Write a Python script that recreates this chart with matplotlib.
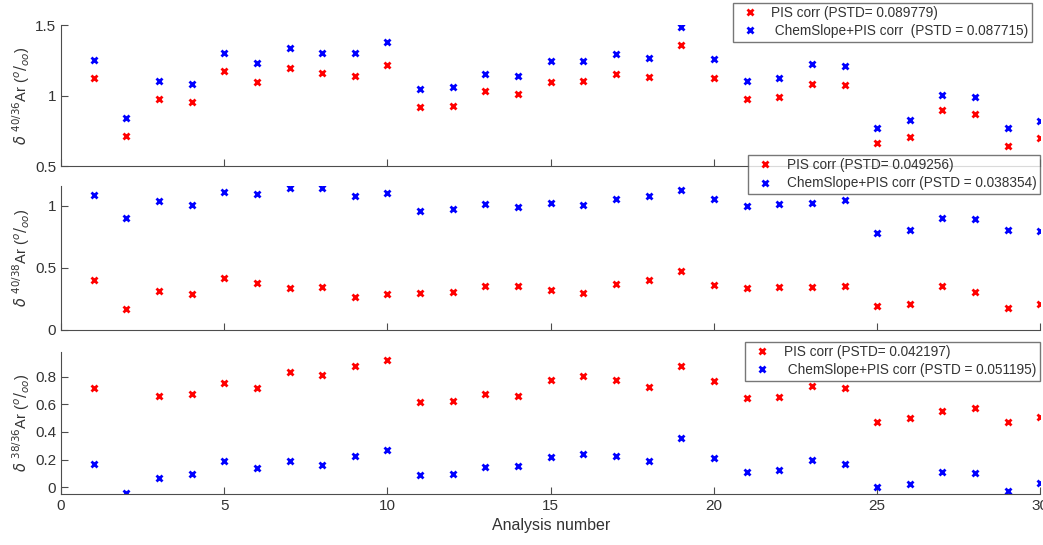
import numpy as np
import matplotlib
matplotlib.use('Agg')
import matplotlib.pyplot as plt

plt.rcParams['font.family'] = ['Liberation Sans', 'DejaVu Sans']

analysis = np.arange(1, 31)

# delta 40/36 Ar
r4036_pis = [1.122, 0.716, 0.977, 0.955, 1.171, 1.099, 1.192, 1.162, 1.141, 1.216,
             0.915, 0.927, 1.030, 1.009, 1.099, 1.106, 1.155, 1.129, 1.361, 1.122,
             0.972, 0.991, 1.085, 1.073, 0.660, 0.704, 0.897, 0.871, 0.643, 0.702]
r4036_chem = [1.249, 0.840, 1.103, 1.085, 1.298, 1.230, 1.336, 1.305, 1.305, 1.380,
              1.047, 1.061, 1.155, 1.136, 1.242, 1.242, 1.293, 1.265, 1.486, 1.260,
              1.103, 1.122, 1.225, 1.211, 0.770, 0.824, 1.005, 0.991, 0.768, 0.819]

# delta 40/38 Ar
r4038_pis = [0.400, 0.171, 0.314, 0.292, 0.421, 0.378, 0.335, 0.343, 0.263, 0.292,
             0.300, 0.306, 0.357, 0.357, 0.322, 0.298, 0.370, 0.400, 0.475, 0.365,
             0.335, 0.343, 0.343, 0.354, 0.193, 0.207, 0.351, 0.306, 0.179, 0.209]
r4038_chem = [1.086, 0.899, 1.043, 1.008, 1.116, 1.100, 1.142, 1.142, 1.080, 1.107,
              0.957, 0.976, 1.014, 0.992, 1.027, 1.008, 1.056, 1.080, 1.126, 1.056,
              1.003, 1.016, 1.027, 1.046, 0.780, 0.810, 0.901, 0.893, 0.810, 0.802]

# delta 38/36 Ar (red point at 2 is off the plotted range)
r3836_pis = [0.722, np.nan, 0.657, 0.677, 0.754, 0.722, 0.838, 0.812, 0.877, 0.920,
             0.619, 0.626, 0.672, 0.657, 0.780, 0.804, 0.775, 0.727, 0.877, 0.768,
             0.645, 0.655, 0.735, 0.720, 0.471, 0.498, 0.549, 0.575, 0.471, 0.505]
r3836_chem = [0.170, -0.046, 0.065, 0.097, 0.186, 0.135, 0.186, 0.162, 0.225, 0.271,
              0.090, 0.097, 0.143, 0.150, 0.217, 0.239, 0.227, 0.186, 0.353, 0.213,
              0.109, 0.123, 0.196, 0.167, 0.003, 0.020, 0.109, 0.104, -0.031, 0.027]

labels_pis = ['PIS corr (PSTD= 0.089779)', 'PIS corr (PSTD= 0.049256)', 'PIS corr (PSTD= 0.042197)']
labels_chem = [' ChemSlope+PIS corr  (PSTD = 0.087715)', 'ChemSlope+PIS corr (PSTD = 0.038354)',
               ' ChemSlope+PIS corr (PSTD = 0.051195)']
ylabels = [r'$\delta\ ^{40/36}$Ar ($^{o}/_{oo}$)', r'$\delta\ ^{40/38}$Ar ($^{o}/_{oo}$)',
           r'$\delta\ ^{38/36}$Ar ($^{o}/_{oo}$)']

fig = plt.figure(figsize=(10.43, 5.45), dpi=100)

# axes rectangles (left, bottom, width, height)
rects = [[0.0585, 0.6954, 0.939, 0.2587],
         [0.0585, 0.3945, 0.939, 0.2640],
         [0.0585, 0.0936, 0.939, 0.2606]]
ylims = [(0.5, 1.5), (0, 1.16), (-0.05, 0.98)]
yticks = [[0.5, 1, 1.5], [0, 0.5, 1], [0, 0.2, 0.4, 0.6, 0.8]]
legpos = [(0.9895, 0.995), (0.997, 0.716), (0.997, 0.373)]

series = [(r4036_pis, r4036_chem), (r4038_pis, r4038_chem), (r3836_pis, r3836_chem)]
grey = '#4d4d4d'

for i in range(3):
    ax = fig.add_axes(rects[i])
    red, blue = series[i]
    ax.plot(analysis, red, 'x', color='red', ms=5, mew=2, label=labels_pis[i])
    ax.plot(analysis, blue, 'x', color='blue', ms=5, mew=2, label=labels_chem[i])
    ax.set_xlim(0, 30)
    ax.set_ylim(ylims[i])
    ax.set_xticks([0, 5, 10, 15, 20, 25, 30])
    ax.set_yticks(yticks[i])
    ax.set_yticklabels([('%g' % v) for v in yticks[i]])
    ax.spines['top'].set_visible(False)
    ax.spines['right'].set_visible(False)
    ax.spines['left'].set_color(grey)
    ax.spines['bottom'].set_color(grey)
    ax.tick_params(direction='in', length=5, colors=grey, labelsize=11, labelcolor='#333333')
    ax.set_ylabel(ylabels[i], fontsize=10.5, color='#333333', labelpad=2)
    if i < 2:
        ax.tick_params(labelbottom=False)
    else:
        ax.set_xlabel('Analysis number', fontsize=11.5, color='#333333')
    leg = ax.legend(loc='upper right', bbox_to_anchor=legpos[i], bbox_transform=fig.transFigure,
                    fontsize=9.8, frameon=True, fancybox=False, borderpad=0.25,
                    handletextpad=0.6, labelspacing=0.3, borderaxespad=0)
    leg.get_frame().set_edgecolor('#555555')
    leg.get_frame().set_linewidth(1.0)
    for t in leg.get_texts():
        t.set_color('#333333')

fig.savefig('out.png', dpi=100)
